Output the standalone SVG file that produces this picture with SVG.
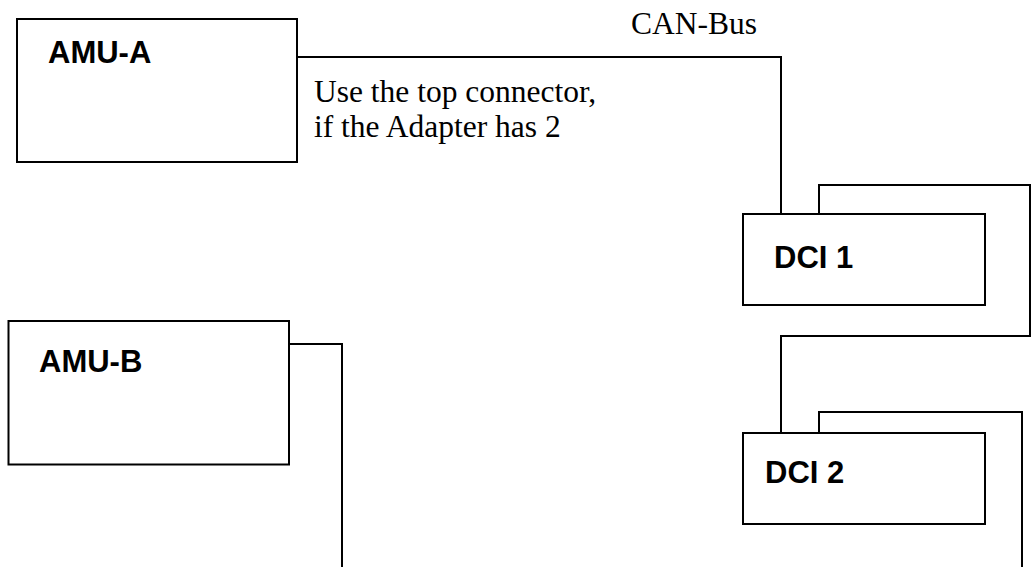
<svg xmlns="http://www.w3.org/2000/svg" width="1031" height="567" viewBox="0 0 1031 567">
<style>
.box{fill:#fff;stroke:#000;stroke-width:2}
.wire{fill:none;stroke:#000;stroke-width:2}
.lbl{font-family:"Liberation Sans",Arial,sans-serif;font-weight:bold;font-size:31px;fill:#000}
.note{font-family:"Liberation Serif","Times New Roman",serif;font-size:31.5px;fill:#000}
</style>
<rect width="1031" height="567" fill="#fff"/>
<g id="connectors">
<polyline class="wire" points="297,57 781,57 781,214"/>
<polyline class="wire" points="819,214 819,185 1030,185 1030,336 781,336 781,433"/>
<polyline class="wire" points="819,433 819,412 1022,412 1022,567"/>
<polyline class="wire" points="289,344 342,344 342,567"/>
</g>
<g id="amu-a">
<rect class="box" x="17" y="19" width="280" height="143"/>
<text class="lbl" x="48" y="63">AMU-A</text>
</g>
<g id="amu-b">
<rect class="box" x="8.5" y="321" width="280.5" height="143.5"/>
<text class="lbl" x="39" y="372">AMU-B</text>
</g>
<g id="dci1">
<rect class="box" x="743" y="214" width="242" height="91"/>
<text class="lbl" x="774" y="268">DCI 1</text>
</g>
<g id="dci2">
<rect class="box" x="743" y="433" width="242" height="91"/>
<text class="lbl" x="765" y="483">DCI 2</text>
</g>
<g id="labels">
<text class="note" x="631" y="34">CAN-Bus</text>
<text class="note" x="314" y="102">Use the top connector,</text>
<text class="note" x="314" y="137">if the Adapter has 2</text>
</g>
</svg>
